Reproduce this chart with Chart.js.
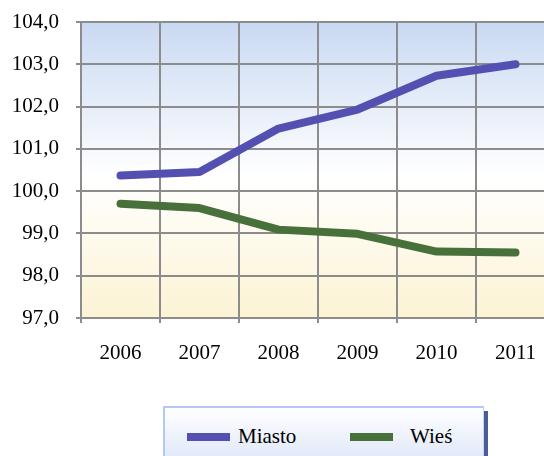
<!DOCTYPE html>
<html>
<head>
<meta charset="utf-8">
<script src="https://cdn.jsdelivr.net/npm/chart.js@4"></script>
<style>
  html, body { margin: 0; padding: 0; background: #fff; overflow: hidden; }
  #wrap { position: relative; width: 544px; height: 456px; overflow: hidden; }
  #chartBox { position: absolute; left: 0; top: 0; width: 562px; height: 380px; }
  #legend {
    position: absolute; left: 163px; top: 406px; width: 318px; height: 60px;
    border-top: 2px solid #b3c8f2; border-left: 2px solid #b3c8f2; border-right: 1px solid #c9d6f2;
    background: linear-gradient(#ffffff, #dae4f7);
    box-shadow: 4px 5px 0 #4b5d98;
    font-family: "Liberation Serif", "Times New Roman", serif; font-size: 21px; color: #000;
  }
  .swatch { position: absolute; width: 43px; height: 8px; }
  .txt { position: absolute; white-space: nowrap; line-height: 24px; }
</style>
</head>
<body>
<div id="wrap">
  <div id="chartBox"><canvas id="chart" width="562" height="380"></canvas></div>
  <div id="legend"></div>
</div>
<script>
// dane
const years = ["2006", "2007", "2008", "2009", "2010", "2011"];
const miasto = [100.37, 100.45, 101.48, 101.93, 102.73, 103.0];
const wies = [99.70, 99.60, 99.09, 98.99, 98.57, 98.55];
const seriesNames = ["Miasto", "Wieś"];
const seriesColors = ["#5450b1", "#48703a"];

const gridColor = "#8c8c8c";
const font = { family: "'Liberation Serif', 'Times New Roman', serif", size: 21 };

// tlo obszaru wykresu
const plotBg = {
    id: "plotBg",
    beforeDraw(chart) {
        const {ctx, chartArea: a} = chart;
        const g = ctx.createLinearGradient(0, a.top, 0, a.bottom);
        g.addColorStop(0, "#c9d9f2");
        g.addColorStop(0.52, "#ffffff");
        g.addColorStop(1, "#fcf3d4");
        ctx.save();
        ctx.fillStyle = g;
        ctx.fillRect(a.left, a.top, a.right - a.left, a.bottom - a.top);
        ctx.restore();
    }
};

const chart = new Chart(document.getElementById("chart"), {
    type: "line",
    data: {
        labels: years,
        datasets: [
            {label: seriesNames[0], data: miasto, borderColor: seriesColors[0]},
            {label: seriesNames[1], data: wies, borderColor: seriesColors[1]},
        ].map(d => Object.assign(d, {
            borderWidth: 8,
            pointRadius: 0,
            tension: 0,
            borderCapStyle: "round",
            borderJoinStyle: "round",
            fill: false,
        }))
    },
    options: {
        responsive: false,
        animation: false,
        layout: {padding: {top: 0, left: 12, right: 7, bottom: 0}},
        plugins: {
            legend: {display: false},
            tooltip: {enabled: false}
        },
        scales: {
            x: {
                offset: true,
                grid: {offset: true, color: gridColor, lineWidth: 2, tickLength: 5, drawTicks: true},
                border: {color: gridColor, width: 2},
                ticks: {font: font, color: "#000", padding: 18},
                afterFit: s => { s.height = 62; }
            },
            y: {
                min: 97,
                max: 104,
                grid: {color: gridColor, lineWidth: 2, tickLength: 5},
                border: {color: gridColor, width: 2},
                ticks: {
                    stepSize: 1,
                    font: font,
                    color: "#000",
                    padding: 17,
                    callback: v => v.toFixed(1).replace(".", ",")
                },
                afterFit: s => { s.width = 69; s.paddingTop = 22; }
            }
        }
    },
    plugins: [plotBg]
});

// legenda
const legend = document.getElementById("legend");
const itemX = [22, 185];
const txtX = [73, 245];
chart.data.datasets.forEach((ds, i) => {
    const sw = document.createElement("div");
    sw.className = "swatch";
    sw.style.left = itemX[i] + "px";
    sw.style.top = "25px";
    sw.style.background = ds.borderColor;
    legend.appendChild(sw);
    const t = document.createElement("div");
    t.className = "txt";
    t.style.left = txtX[i] + "px";
    t.style.top = "16px";
    t.textContent = ds.label;
    legend.appendChild(t);
});
</script>
</body>
</html>
